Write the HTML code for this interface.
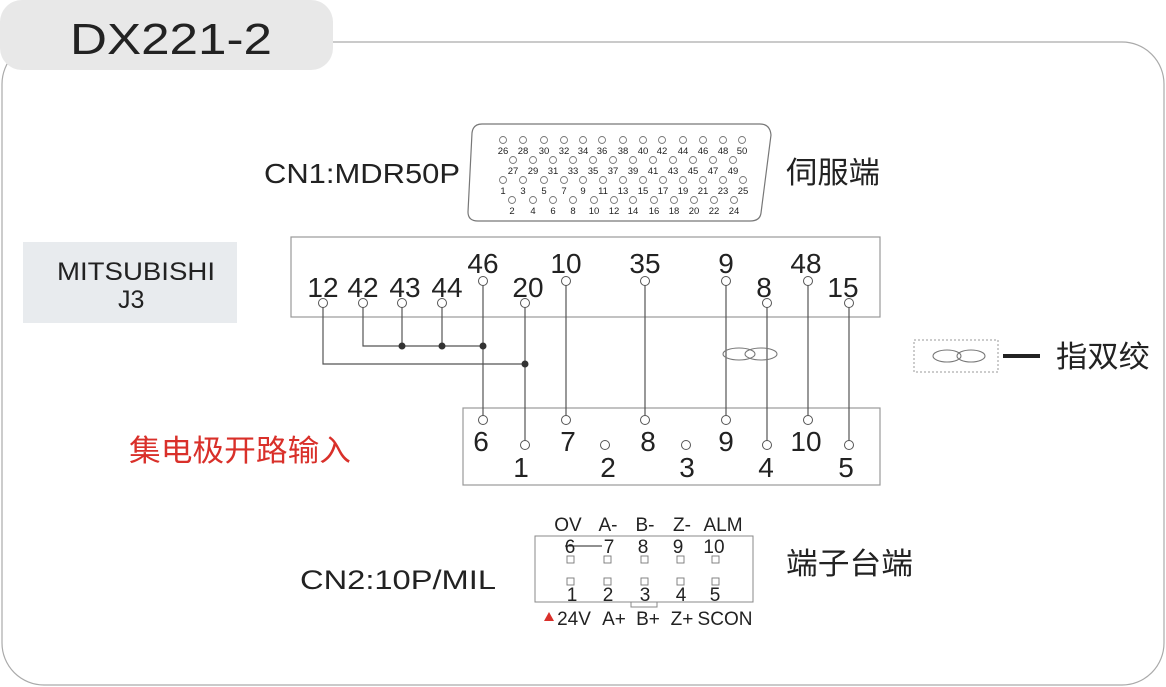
<!DOCTYPE html>
<html><head><meta charset="utf-8"><style>
body{margin:0;background:#fff}
svg{display:block}
text{font-family:"Liberation Sans","Noto Sans CJK SC",sans-serif;fill:#222}
</style></head><body>
<svg width="1166" height="687" viewBox="0 0 1166 687" xmlns="http://www.w3.org/2000/svg">
<rect x="2" y="42" width="1162" height="643" rx="42" fill="#fff" stroke="#aaa" stroke-width="1.2"/>
<rect x="0" y="0" width="333" height="70" rx="22" fill="#e8e8e8"/>
<text x="70" y="54" font-size="44" fill="#111" textLength="202" lengthAdjust="spacingAndGlyphs">DX221-2</text>

<path d="M482,124 L760,124 Q770,124 771,135 L761,213 Q760,221 750,221 L478,221 Q468,221 468,212 L472,133 Q473,124 482,124 Z" fill="#fff" stroke="#777" stroke-width="1.2"/>
<g fill="none" stroke="#777" stroke-width="0.9">
<circle cx="503" cy="140" r="3.5"/><circle cx="523" cy="140" r="3.5"/><circle cx="544" cy="140" r="3.5"/><circle cx="564" cy="140" r="3.5"/><circle cx="583" cy="140" r="3.5"/><circle cx="602" cy="140" r="3.5"/><circle cx="623" cy="140" r="3.5"/><circle cx="643" cy="140" r="3.5"/><circle cx="662" cy="140" r="3.5"/><circle cx="683" cy="140" r="3.5"/><circle cx="703" cy="140" r="3.5"/><circle cx="723" cy="140" r="3.5"/><circle cx="742" cy="140" r="3.5"/>
<circle cx="513" cy="160" r="3.5"/><circle cx="533" cy="160" r="3.5"/><circle cx="553" cy="160" r="3.5"/><circle cx="573" cy="160" r="3.5"/><circle cx="593" cy="160" r="3.5"/><circle cx="613" cy="160" r="3.5"/><circle cx="633" cy="160" r="3.5"/><circle cx="653" cy="160" r="3.5"/><circle cx="673" cy="160" r="3.5"/><circle cx="693" cy="160" r="3.5"/><circle cx="713" cy="160" r="3.5"/><circle cx="733" cy="160" r="3.5"/>
<circle cx="503" cy="180" r="3.5"/><circle cx="523" cy="180" r="3.5"/><circle cx="544" cy="180" r="3.5"/><circle cx="564" cy="180" r="3.5"/><circle cx="583" cy="180" r="3.5"/><circle cx="603" cy="180" r="3.5"/><circle cx="623" cy="180" r="3.5"/><circle cx="643" cy="180" r="3.5"/><circle cx="663" cy="180" r="3.5"/><circle cx="683" cy="180" r="3.5"/><circle cx="703" cy="180" r="3.5"/><circle cx="723" cy="180" r="3.5"/><circle cx="743" cy="180" r="3.5"/>
<circle cx="512" cy="200" r="3.5"/><circle cx="533" cy="200" r="3.5"/><circle cx="553" cy="200" r="3.5"/><circle cx="573" cy="200" r="3.5"/><circle cx="594" cy="200" r="3.5"/><circle cx="614" cy="200" r="3.5"/><circle cx="633" cy="200" r="3.5"/><circle cx="654" cy="200" r="3.5"/><circle cx="674" cy="200" r="3.5"/><circle cx="694" cy="200" r="3.5"/><circle cx="714" cy="200" r="3.5"/><circle cx="734" cy="200" r="3.5"/>
</g>
<g font-size="9.5" text-anchor="middle">
<text x="503" y="154">26</text><text x="523" y="154">28</text><text x="544" y="154">30</text><text x="564" y="154">32</text><text x="583" y="154">34</text><text x="602" y="154">36</text><text x="623" y="154">38</text><text x="643" y="154">40</text><text x="662" y="154">42</text><text x="683" y="154">44</text><text x="703" y="154">46</text><text x="723" y="154">48</text><text x="742" y="154">50</text>
<text x="513" y="174">27</text><text x="533" y="174">29</text><text x="553" y="174">31</text><text x="573" y="174">33</text><text x="593" y="174">35</text><text x="613" y="174">37</text><text x="633" y="174">39</text><text x="653" y="174">41</text><text x="673" y="174">43</text><text x="693" y="174">45</text><text x="713" y="174">47</text><text x="733" y="174">49</text>
<text x="503" y="194">1</text><text x="523" y="194">3</text><text x="544" y="194">5</text><text x="564" y="194">7</text><text x="583" y="194">9</text><text x="603" y="194">11</text><text x="623" y="194">13</text><text x="643" y="194">15</text><text x="663" y="194">17</text><text x="683" y="194">19</text><text x="703" y="194">21</text><text x="723" y="194">23</text><text x="743" y="194">25</text>
<text x="512" y="214">2</text><text x="533" y="214">4</text><text x="553" y="214">6</text><text x="573" y="214">8</text><text x="594" y="214">10</text><text x="614" y="214">12</text><text x="633" y="214">14</text><text x="654" y="214">16</text><text x="674" y="214">18</text><text x="694" y="214">20</text><text x="714" y="214">22</text><text x="734" y="214">24</text>
</g>
<text x="264" y="183" font-size="28" textLength="196" lengthAdjust="spacingAndGlyphs">CN1:MDR50P</text>
<text x="786" y="183" font-size="30" textLength="94" lengthAdjust="spacingAndGlyphs">伺服端</text>

<rect x="23" y="242" width="214" height="81" fill="#e8ebee"/>
<text x="57" y="280" font-size="25" textLength="158" lengthAdjust="spacingAndGlyphs">MITSUBISHI</text>
<text x="118" y="308" font-size="25">J3</text>

<rect x="291" y="237" width="589" height="80" fill="#fff" stroke="#999" stroke-width="1.2"/>
<rect x="463" y="408" width="417" height="77" fill="#fff" stroke="#999" stroke-width="1.2"/>

<g stroke="#555" stroke-width="1.2" fill="none">
<path d="M323,303 V364 H525"/>
<path d="M363,303 V346 H483"/>
<path d="M402,303 V346"/><path d="M442,303 V346"/>
<path d="M483,281 V420"/><path d="M525,303 V445"/>
<path d="M566,281 V420"/><path d="M645,281 V420"/>
<path d="M726,281 V420"/><path d="M767,303 V445"/>
<path d="M808,281 V420"/><path d="M849,303 V445"/>
</g>
<g fill="#333"><circle cx="402" cy="346" r="3.5"/><circle cx="442" cy="346" r="3.5"/><circle cx="483" cy="346" r="3.5"/><circle cx="525" cy="364" r="3.5"/></g>
<g fill="none" stroke="#777" stroke-width="1.1"><ellipse cx="739" cy="354" rx="16" ry="6"/><ellipse cx="761" cy="354" rx="16" ry="6"/></g>

<g fill="#fff" stroke="#555" stroke-width="1">
<circle cx="323" cy="303" r="4.5"/><circle cx="363" cy="303" r="4.5"/><circle cx="402" cy="303" r="4.5"/><circle cx="442" cy="303" r="4.5"/><circle cx="483" cy="281" r="4.5"/><circle cx="525" cy="303" r="4.5"/><circle cx="566" cy="281" r="4.5"/><circle cx="645" cy="281" r="4.5"/><circle cx="726" cy="281" r="4.5"/><circle cx="767" cy="303" r="4.5"/><circle cx="808" cy="281" r="4.5"/><circle cx="849" cy="303" r="4.5"/>
<circle cx="483" cy="420" r="4.5"/><circle cx="525" cy="445" r="4.5"/><circle cx="566" cy="420" r="4.5"/><circle cx="605" cy="445" r="4.5"/><circle cx="645" cy="420" r="4.5"/><circle cx="686" cy="445" r="4.5"/><circle cx="726" cy="420" r="4.5"/><circle cx="767" cy="445" r="4.5"/><circle cx="808" cy="420" r="4.5"/><circle cx="849" cy="445" r="4.5"/>
</g>
<g font-size="28" text-anchor="middle">
<text x="323" y="297">12</text><text x="363" y="297">42</text><text x="405" y="297">43</text><text x="447" y="297">44</text><text x="483" y="273">46</text><text x="528" y="297">20</text><text x="566" y="273">10</text><text x="645" y="273">35</text><text x="726" y="273">9</text><text x="764" y="297">8</text><text x="806" y="273">48</text><text x="843" y="297">15</text>
<text x="481" y="451">6</text><text x="521" y="477">1</text><text x="568" y="451">7</text><text x="608" y="477">2</text><text x="648" y="451">8</text><text x="687" y="477">3</text><text x="726" y="451">9</text><text x="766" y="477">4</text><text x="806" y="451">10</text><text x="846" y="477">5</text>
</g>
<text x="129" y="461" font-size="30" style="fill:#d9302a" textLength="222" lengthAdjust="spacingAndGlyphs">集电极开路输入</text>

<rect x="914" y="340" width="84" height="32" fill="none" stroke="#999" stroke-width="1" stroke-dasharray="2,2"/>
<g fill="none" stroke="#777" stroke-width="1.1"><ellipse cx="947" cy="356" rx="14" ry="6"/><ellipse cx="971" cy="356" rx="14" ry="6"/></g>
<rect x="1003" y="354" width="37" height="4" fill="#222"/>
<text x="1056" y="367" font-size="30" textLength="94" lengthAdjust="spacingAndGlyphs">指双绞</text>

<rect x="535" y="536" width="218" height="66" fill="#fff" stroke="#888" stroke-width="1"/>
<rect x="631" y="602" width="26" height="5" fill="#fff" stroke="#888" stroke-width="1"/>
<g font-size="19" text-anchor="middle">
<text x="568" y="531">OV</text><text x="608" y="531">A-</text><text x="645" y="531">B-</text><text x="682" y="531">Z-</text><text x="723" y="531">ALM</text>
<text x="570" y="553">6</text><text x="609" y="553">7</text><text x="643" y="553">8</text><text x="678" y="553">9</text><text x="714" y="553">10</text>
<text x="572" y="601">1</text><text x="608" y="601">2</text><text x="645" y="601">3</text><text x="681" y="601">4</text><text x="715" y="601">5</text>
<text x="574" y="625">24V</text><text x="614" y="625">A+</text><text x="648" y="625">B+</text><text x="682" y="625">Z+</text><text x="725" y="625">SCON</text>
</g>
<line x1="565" y1="546" x2="602" y2="546" stroke="#222" stroke-width="1"/>
<polygon points="544,621 549,612 554,621" fill="#d9302a"/>
<g fill="#fff" stroke="#777" stroke-width="0.9">
<rect x="567" y="556" width="7" height="7"/><rect x="604" y="556" width="7" height="7"/><rect x="641" y="556" width="7" height="7"/><rect x="677" y="556" width="7" height="7"/><rect x="712" y="556" width="7" height="7"/>
<rect x="567" y="578" width="7" height="7"/><rect x="604" y="578" width="7" height="7"/><rect x="641" y="578" width="7" height="7"/><rect x="677" y="578" width="7" height="7"/><rect x="712" y="578" width="7" height="7"/>
</g>
<text x="300" y="589" font-size="27" textLength="196" lengthAdjust="spacingAndGlyphs">CN2:10P/MIL</text>
<text x="786" y="574" font-size="30" textLength="127" lengthAdjust="spacingAndGlyphs">端子台端</text>
</svg>
</body></html>
